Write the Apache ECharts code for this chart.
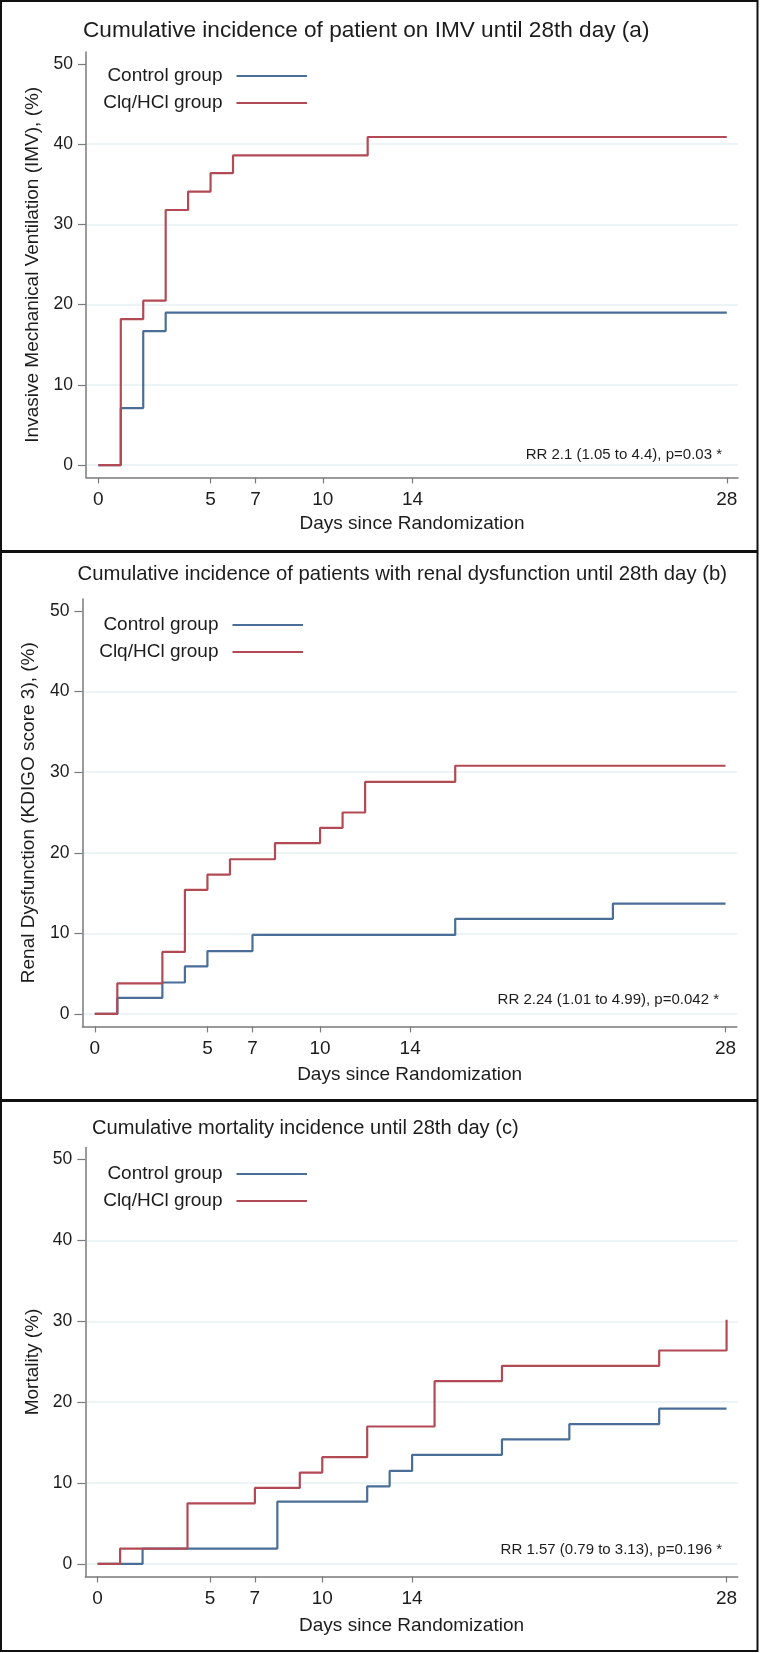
<!DOCTYPE html>
<html><head><meta charset="utf-8">
<script src="https://cdn.jsdelivr.net/npm/echarts@6/dist/echarts.min.js"></script>
<style>html,body{margin:0;padding:0;background:#fff}#c{width:760px;height:1653px}</style>
</head><body><div id="c"></div>
<script>
// ---- text ----
const panelTitles = [
  'Cumulative incidence of patient on IMV until 28th day (a)',
  'Cumulative incidence of patients with renal dysfunction until 28th day (b)',
  'Cumulative mortality incidence until 28th day (c)'
];
const yTitles = [
  'Invasive Mechanical Ventilation (IMV), (%)',
  'Renal Dysfunction (KDIGO score 3), (%)',
  'Mortality (%)'
];
const xTitle = 'Days since Randomization';
const groupNames = ['Control group', 'Clq/HCl group'];
const notes = [
  'RR 2.1 (1.05 to 4.4), p=0.03 *',
  'RR 2.24 (1.01 to 4.99), p=0.042 *',
  'RR 1.57 (0.79 to 3.13), p=0.196 *'
];
// ---- ticks ----
const xTicks = [0, 5, 7, 10, 14, 28];
const yTicks = [0, 10, 20, 30, 40, 50];
// ---- data (day of step, cumulative %) ----
const imvControlDays = [0, 1, 2, 3, 28];
const imvControlPct  = [0, 7.1, 16.7, 19.0, 19.0];
const imvClqDays = [0, 1, 2, 3, 4, 5, 6, 12, 28];
const imvClqPct  = [0, 18.2, 20.5, 31.8, 34.1, 36.4, 38.6, 40.9, 40.9];
const renalControlDays = [0, 1, 3, 4, 5, 7, 16, 23, 28];
const renalControlPct  = [0, 2.0, 3.9, 5.9, 7.8, 9.8, 11.8, 13.7, 13.7];
const renalClqDays = [0, 1, 3, 4, 5, 6, 8, 10, 11, 12, 16, 28];
const renalClqPct  = [0, 3.8, 7.7, 15.4, 17.3, 19.2, 21.2, 23.1, 25.0, 28.8, 30.8, 30.8];
const mortControlDays = [0, 2, 8, 12, 13, 14, 18, 21, 25, 28];
const mortControlPct  = [0, 1.9, 7.7, 9.6, 11.5, 13.5, 15.4, 17.3, 19.2, 19.2];
const mortClqDays = [0, 1, 4, 7, 9, 10, 12, 15, 18, 25, 28];
const mortClqPct  = [0, 1.9, 7.5, 9.4, 11.3, 13.2, 17.0, 22.6, 24.5, 26.4, 30.2];

const zip = (a, b) => a.map((d, i) => [d, b[i]]);
const panelData = [
  [zip(imvControlDays, imvControlPct), zip(imvClqDays, imvClqPct)],
  [zip(renalControlDays, renalControlPct), zip(renalClqDays, renalClqPct)],
  [zip(mortControlDays, mortControlPct), zip(mortClqDays, mortClqPct)]
];

// ---- layout / style ----
const FONT = '"Liberation Sans", Arial, sans-serif';
const TXT = '#1c1c1c';
const AX = '#7a7a7a';
const GRIDC = '#e6f0f2';
const COLORS = ['#4a6e97', '#b24a56'];
const layout = [
  {left: 86,   top: 52,     w: 652,   h: 425.5, tLeft: 83,   tTop: 19,    tSize: 22.6, lTop: 66,   lRight: 453, nx: 722, ny: 455,    yGap: 43.5, xGap: 36.5},
  {left: 82.4, top: 599,    w: 654.4, h: 427.4, tLeft: 77.6, tTop: 564.8, tSize: 20.3, lTop: 615,  lRight: 457, nx: 719, ny: 999.6,  yGap: 44,   xGap: 39},
  {left: 85.3, top: 1147.5, w: 652.5, h: 429,   tLeft: 92,   tTop: 1118.8,tSize: 20.1, lTop: 1164, lRight: 453, nx: 722, ny: 1549.6, yGap: 42,   xGap: 40}
];

const grid = [], xAxis = [], yAxis = [], title = [], legend = [], series = [];
const graphic = [
  {type: 'rect', shape: {x: 1, y: 1, width: 756.5, height: 1650}, style: {fill: 'none', stroke: '#111', lineWidth: 2}},
  {type: 'line', shape: {x1: 0, y1: 551.5, x2: 758, y2: 551.5}, style: {stroke: '#111', lineWidth: 3}},
  {type: 'line', shape: {x1: 0, y1: 1100.5, x2: 758, y2: 1100.5}, style: {stroke: '#111', lineWidth: 3}}
];

layout.forEach((p, i) => {
  grid.push({left: p.left, top: p.top, width: p.w, height: p.h});
  xAxis.push({
    type: 'value', gridIndex: i, min: -0.55, max: 28.5,
    name: xTitle, nameLocation: 'middle', nameGap: p.xGap,
    nameTextStyle: {fontFamily: FONT, fontSize: 19, color: TXT},
    axisLine: {show: true, onZero: false, lineStyle: {color: AX, width: 1.5}},
    axisTick: {show: true, length: 6, customValues: xTicks, lineStyle: {color: AX, width: 1.2}},
    axisLabel: {customValues: xTicks, margin: 13, fontFamily: FONT, fontSize: 19, color: TXT},
    splitLine: {show: false}
  });
  yAxis.push({
    type: 'value', gridIndex: i, min: -1.55, max: 51.5,
    name: yTitles[i], nameLocation: 'middle', nameGap: p.yGap,
    nameTextStyle: {fontFamily: FONT, fontSize: 19, color: TXT},
    axisLine: {show: true, onZero: false, lineStyle: {color: AX, width: 1.5}},
    axisTick: {show: true, length: 8, customValues: yTicks, lineStyle: {color: AX, width: 1.2}},
    axisLabel: {customValues: yTicks, margin: 13, fontFamily: FONT, fontSize: 17.5, color: TXT},
    splitLine: {show: true, lineStyle: {color: [GRIDC, GRIDC, GRIDC, GRIDC, GRIDC, 'rgba(0,0,0,0)'], width: 1.5}}
  });
  title.push({
    text: panelTitles[i], left: p.tLeft, top: p.tTop, padding: 0,
    textStyle: {fontFamily: FONT, fontSize: p.tSize, fontWeight: 'normal', color: TXT}
  });
  legend.push({
    data: groupNames, orient: 'vertical', align: 'right', right: p.lRight, top: p.lTop,
    padding: 0, icon: 'rect', itemWidth: 70.5, itemHeight: 2, itemGap: 7,
    textStyle: {fontFamily: FONT, fontSize: 19, color: TXT, lineHeight: 20, padding: [0, 9, 0, 0]}
  });
  groupNames.forEach((name, k) => {
    series.push({
      name, type: 'line', step: 'end', xAxisIndex: i, yAxisIndex: i,
      data: panelData[i][k], symbol: 'none', color: COLORS[k], z: 2 + k,
      lineStyle: {color: COLORS[k], width: 2.2}
    });
  });
  graphic.push({
    type: 'text', x: p.nx, y: p.ny,
    style: {text: notes[i], fontFamily: FONT, fontSize: 15, fill: TXT, align: 'right', verticalAlign: 'middle'}
  });
});

const chart = echarts.init(document.getElementById('c'), null, {renderer: 'canvas'});
chart.setOption({animation: false, backgroundColor: '#fff', title, legend, grid, xAxis, yAxis, series, graphic});
</script></body></html>
